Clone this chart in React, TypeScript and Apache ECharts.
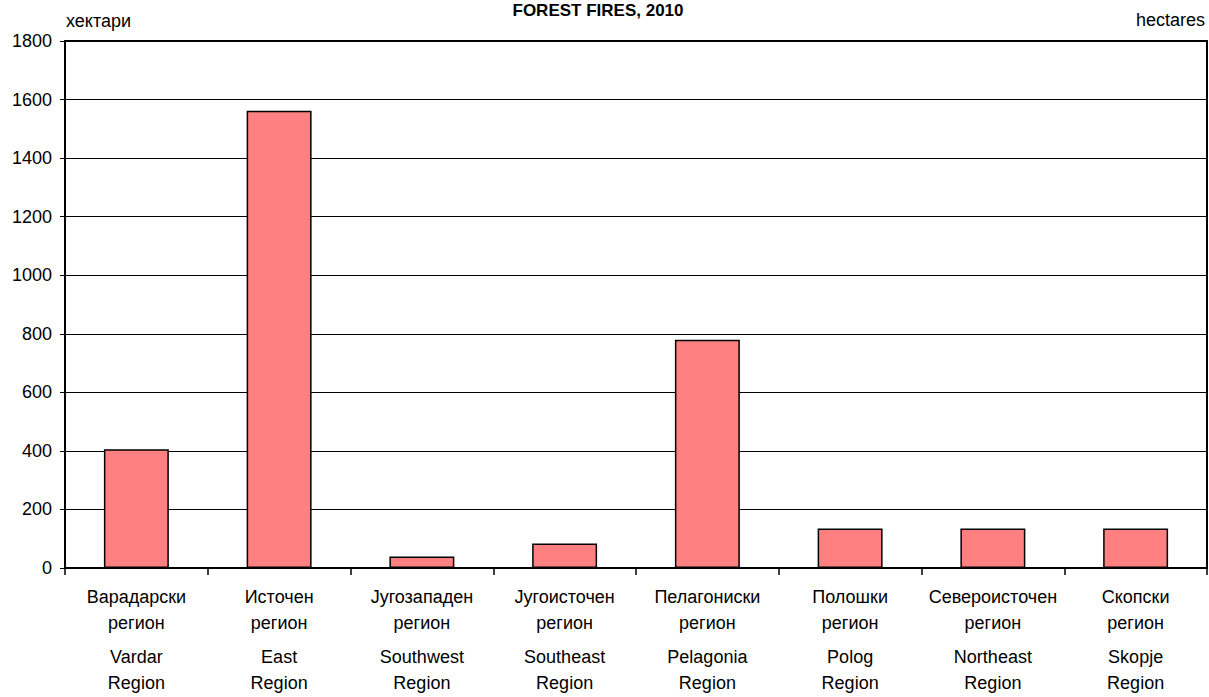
import React, { useEffect, useRef } from "react";
import * as echarts from "echarts";

const mkNames = ["Варадарски", "Источен", "Југозападен", "Југоисточен", "Пелагониски", "Полошки", "Североисточен", "Скопски"];
const enNames = ["Vardar", "East", "Southwest", "Southeast", "Pelagonia", "Polog", "Northeast", "Skopje"];
const categories = enNames.map((n) => n + " Region");
const hectares = [406, 1562, 39, 84, 780, 135, 135, 135];
const yTicks = { min: 0, max: 1800, interval: 200 };

const FONT = "'Liberation Sans', Arial, sans-serif";

export default function App() {
  const ref = useRef<HTMLDivElement>(null);
  useEffect(() => {
    if (!ref.current) return;
    const chart = echarts.init(ref.current, undefined, { renderer: "svg" });
    const rs = (lh: number) => ({ fontSize: 18, fontFamily: FONT, color: "#000", lineHeight: lh, align: "center" });
    chart.setOption({
      animation: false,
      backgroundColor: "#fff",
      grid: { left: 65, right: 2, top: 41, bottom: 129, show: true, borderColor: "#000", borderWidth: 2, backgroundColor: "transparent" },
      graphic: [
        { type: "text", x: 598, y: 10, style: { text: "FOREST FIRES, 2010", font: `bold 17px ${FONT}`, fill: "#000", align: "center", verticalAlign: "middle" } },
        { type: "text", x: 66, y: 21, style: { text: "хектари", font: `18px ${FONT}`, fill: "#000", align: "left", verticalAlign: "middle" } },
        { type: "text", x: 1205, y: 20, style: { text: "hectares", font: `18px ${FONT}`, fill: "#000", align: "right", verticalAlign: "middle" } },
      ],
      xAxis: {
        type: "category",
        data: categories,
        axisLine: { lineStyle: { color: "#000", width: 2 } },
        axisTick: { show: true, length: 7, lineStyle: { color: "#000", width: 1.5 } },
        axisLabel: {
          interval: 0,
          margin: 20,
          formatter: (_v: string, i: number) => `{c1|${mkNames[i]}}\n{c2|регион}\n{e1|${enNames[i]}}\n{e2|Region}`,
          rich: { c1: rs(18), c2: rs(34), e1: rs(34), e2: rs(18) },
        },
      },
      yAxis: {
        type: "value",
        min: yTicks.min,
        max: yTicks.max,
        interval: yTicks.interval,
        axisLine: { show: true, lineStyle: { color: "#000", width: 2 } },
        axisTick: { show: true, length: 5, lineStyle: { color: "#000", width: 1 } },
        axisLabel: { margin: 13, fontSize: 18, fontFamily: FONT, color: "#000", formatter: (v: number) => String(v) },
        splitLine: { show: true, lineStyle: { color: "#000", width: 1 } },
      },
      series: [
        {
          type: "bar",
          data: hectares,
          barWidth: "45.5%",
          itemStyle: { color: "#FF8080", borderColor: "#000", borderWidth: 1.5 },
        },
      ],
    });
    return () => chart.dispose();
  }, []);
  return <div ref={ref} style={{ position: "fixed", left: 0, top: 0, width: 1209, height: 697 }} />;
}
